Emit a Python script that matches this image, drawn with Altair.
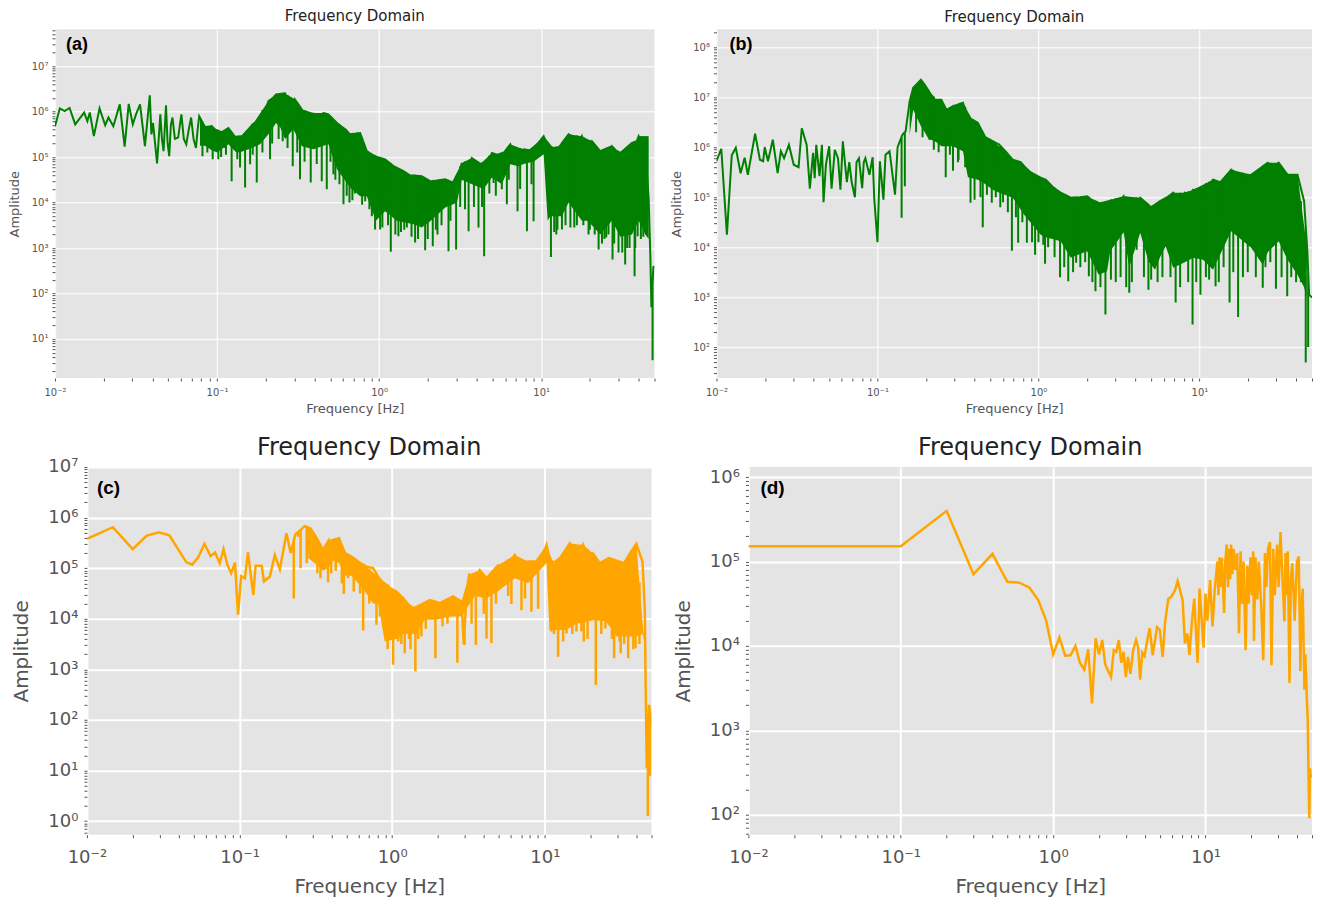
import altair as alt
import numpy as np
import pandas as pd

# Every trace is (log10 frequency, log10 amplitude); bands are (log10 frequency, top, bottom) of the solid part;
# notch lists are (log10 frequency, lowest log10 amplitude) of the short dips under each solid part.
a_trace = [(-2.0,5.68),(-1.97,6.07),(-1.94,6.01),(-1.91,6.08),(-1.875,5.72),(-1.82,5.98),(-1.80,5.79),(-1.785,5.98),(-1.76,5.46),(-1.725,6.07),(-1.69,5.70),(-1.67,5.87),(-1.64,5.68),(-1.60,6.16),(-1.57,5.23),(-1.545,6.17),(-1.52,5.72),(-1.50,5.94),(-1.475,6.16),(-1.445,5.24),(-1.415,6.36),(-1.405,5.5),(-1.395,5.75),(-1.37,4.86),(-1.35,5.94),(-1.34,5.4),(-1.33,5.13),(-1.315,6.14),(-1.305,5.3),(-1.295,5.02),(-1.285,5.7),(-1.275,5.87),(-1.26,5.4),(-1.24,5.43),(-1.22,5.94),(-1.205,5.4),(-1.19,5.28),(-1.175,5.6),(-1.16,5.87),(-1.145,5.4),(-1.13,5.20),(-1.12,5.6),(-1.11,5.9),(-1.09,5.02),(-1.074,5.66),(-1.05,5.3),(-1.033,5.68),(-1.027,4.95),(-1.01,5.6),(-.992,4.95),(-.97,5.55),(-.95,5.2),(-.93,5.64),(-.91,4.47),(-.89,5.45),(-.858,4.77),(-.845,5.46),(-.827,4.33),(-.81,5.6),(-.796,4.84),(-.78,5.72),(-.755,4.44),(-.735,5.83),(-.705,6.0),(-.683,6.23),(-.673,4.95),(-.655,6.3),(-.636,6.38),(-.595,5.35),(-.58,6.4),(-.55,5.8),(-.533,4.8),(-.52,6.27),(-.488,4.51),(-.477,6.05),(-.44,5.4),(-.422,4.44),(-.405,5.97),(-.375,5.5),(-.354,4.47),(-.344,5.97),(-.323,4.29),(-.313,5.94),(-.282,4.62),(-.26,5.75),(-.22,3.96),(-.205,5.6),(-.183,4.0),(-.18,5.5),(-.138,4.25),(-.117,5.53),(-.086,4.03),(-.076,5.13),(-.06,3.85),(-.04,5.05),(-.025,3.41),(-.01,5.0),(.006,3.41),(.037,4.95),(.072,2.92),(.09,4.8),(.119,3.26),(.145,4.7),(.171,3.45),(.19,4.6),(.222,3.12),(.263,4.58),(.284,2.95),(.315,4.47),(.331,3.04),(.345,4.48),(.36,3.3),(.408,4.51),(.428,2.93),(.45,4.45),(.475,2.97),(.48,4.4),(.51,4.87),(.535,4.5),(.552,3.37),(.572,4.98),(.613,3.45),(.625,4.85),(.648,2.82),(.665,4.8),(.696,5.09),(.706,4.43),(.73,5.05),(.757,4.29),(.77,5.1),(.788,3.96),(.809,5.28),(.835,5.0),(.854,3.81),(.891,5.17),(.912,3.37),(.93,5.15),(.953,3.59),(.98,5.3),(1.015,5.46),(1.04,5.25),(1.06,2.8),(1.075,5.2),(1.093,3.3),(1.11,5.22),(1.128,3.41),(1.169,5.5),(1.204,3.45),(1.23,5.3),(1.251,5.46),(1.282,5.17),(1.292,3.3),(1.313,5.35),(1.354,2.97),(1.364,5.13),(1.401,3.23),(1.436,5.24),(1.44,2.75),(1.46,5.15),(1.477,2.9),(1.488,5.09),(1.518,2.64),(1.56,5.31),(1.576,2.38),(1.59,5.35),(1.595,3.26),(1.601,5.46),(1.642,5.13),(1.663,4.1),(1.673,2.86),(1.68,1.7),(1.687,0.53),(1.692,2.58),(1.699,2.6)]
a_band = [(-1.105,5.85,5.25),(-1.074,5.66,5.25),(-1.033,5.66,5.15),(-1.0,5.5,5.1),(-0.93,5.62,5.28),(-0.88,5.42,5.1),(-0.848,5.45,5.12),(-.786,5.7,5.2),(-.735,5.82,5.28),(-.683,6.2,5.5),(-.636,6.37,5.75),(-.61,6.05,5.65),(-.58,6.38,5.39),(-.53,6.25,5.62),(-.477,6.04,5.24),(-.405,5.96,5.17),(-.344,5.96,5.25),(-.313,5.93,5.28),(-.26,5.74,4.73),(-.18,5.48,4.33),(-.117,5.5,4.14),(-.076,5.12,4.14),(-.02,5.0,3.6),(.037,4.93,3.81),(.109,4.72,3.6),(.212,4.57,3.52),(.263,4.57,3.45),(.315,4.46,3.59),(.408,4.5,3.89),(.48,4.4,4.0),(.51,4.85,4.5),(.572,4.97,4.4),(.644,4.75,4.3),(.696,5.08,4.55),(.757,5.0,4.4),(.809,5.26,4.84),(.86,5.0,4.8),(.891,5.15,4.85),(.953,5.15,4.9),(1.015,5.44,5.06),(1.04,5.3,3.6),(1.056,5.18,3.7),(1.128,5.22,3.7),(1.169,5.46,4.0),(1.21,5.27,3.8),(1.251,5.44,3.6),(1.282,5.15,3.6),(1.313,5.33,3.5),(1.364,5.12,3.3),(1.436,5.22,3.6),(1.488,5.08,3.25),(1.56,5.3,3.3),(1.601,5.44,3.6),(1.642,5.12,3.3),(1.663,4.1,3.2)]
a_notch = [(-1.06,5.1),(-.975,5.0),(-.945,5.05),(-.875,4.95),(-.78,5.05),(-.72,5.1),(-.66,5.3),(-.62,5.4),(-.565,5.2),(-.505,5.1),(-.46,4.9),(-.385,4.85),(-.30,4.9),(-.27,4.5),(-.245,4.4),(-.20,4.15),(-.165,4.05),(-.15,4.2),(-.105,3.95),(-.045,3.7),(.02,3.45),(.055,3.5),(.10,3.3),(.135,3.35),(.155,3.4),(.20,3.25),(.24,3.2),(.30,3.2),(.35,3.4),(.385,3.5),(.44,3.6),(.50,3.9),(.53,3.85),(.585,3.9),(.635,3.9),(.68,4.2),(.72,4.15),(.80,4.5),(.87,4.3),(.94,4.4),(1.08,3.35),(1.10,3.4),(1.15,3.5),(1.18,3.45),(1.22,3.5),(1.26,3.5),(1.30,3.4),(1.33,3.3),(1.375,3.1),(1.39,3.2),(1.415,3.3),(1.45,3.1),(1.50,2.9),(1.53,3.0),(1.545,3.0),(1.58,3.0),(1.615,3.2),(1.63,3.25),(1.65,3.3)]

b_trace = [(-2.0,5.72),(-1.97,5.97),(-1.935,4.25),(-1.905,5.84),(-1.88,5.99),(-1.85,5.48),(-1.825,5.79),(-1.805,5.45),(-1.76,6.27),(-1.73,5.75),(-1.71,5.72),(-1.70,6.0),(-1.68,5.72),(-1.65,6.15),(-1.62,5.48),(-1.60,5.92),(-1.58,5.78),(-1.55,6.05),(-1.52,5.65),(-1.49,5.6),(-1.47,6.38),(-1.44,6.05),(-1.42,5.17),(-1.40,5.89),(-1.39,5.38),(-1.38,6.05),(-1.36,5.42),(-1.345,6.05),(-1.335,4.9),(-1.32,5.65),(-1.30,6.02),(-1.285,5.17),(-1.265,5.95),(-1.245,5.78),(-1.23,5.15),(-1.215,6.12),(-1.19,5.3),(-1.175,5.7),(-1.16,5.3),(-1.14,5.0),(-1.13,5.7),(-1.115,5.78),(-1.095,5.18),(-1.085,5.7),(-1.075,5.78),(-1.05,5.45),(-1.03,5.8),(-1.02,4.98),(-1.0,4.1),(-.985,5.72),(-.963,4.95),(-.95,5.85),(-.925,5.92),(-.891,5.05),(-.875,6.0),(-.85,4.59),(-.845,6.25),(-.83,5.22),(-.825,6.32),(-.8,6.92),(-.778,7.19),(-.755,6.6),(-.73,7.35),(-.706,7.25),(-.68,7.12),(-.675,6.15),(-.665,6.79),(-.634,6.95),(-.603,6.95),(-.576,5.4),(-.572,6.75),(-.531,5.53),(-.531,6.82),(-.496,5.75),(-.469,6.89),(-.438,6.59),(-.422,4.89),(-.41,6.55),(-.397,4.95),(-.377,6.49),(-.346,4.4),(-.33,6.2),(-.29,4.89),(-.284,6.12),(-.243,6.05),(-.237,4.8),(-.2,5.9),(-.165,3.93),(-.16,5.75),(-.126,4.09),(-.11,5.7),(-.089,5.62),(-.072,4.09),(-.05,5.5),(-.021,3.85),(.014,5.39),(.041,3.67),(.045,5.35),(.09,5.2),(.134,3.4),(.138,5.09),(.185,3.32),(.2,4.99),(.234,3.69),(.26,5.0),(.302,5.02),(.313,3.42),(.33,4.95),(.354,3.12),(.374,4.89),(.405,4.75),(.416,2.65),(.446,4.85),(.5,4.9),(.529,5.02),(.564,3.09),(.564,4.62),(.632,4.99),(.683,3.15),(.7,4.8),(.724,4.72),(.755,4.92),(.8,5.0),(.837,5.09),(.852,2.89),(.875,4.95),(.909,5.09),(.94,5.0),(.957,2.45),(.961,5.15),(1.006,3.05),(1.022,5.09),(1.084,5.35),(1.1,3.22),(1.13,5.3),(1.187,2.89),(1.197,5.55),(1.24,2.6),(1.26,5.4),(1.321,5.45),(1.393,3.19),(1.424,5.69),(1.455,5.6),(1.475,3.17),(1.492,5.69),(1.545,3.02),(1.547,5.45),(1.609,5.45),(1.65,4.92),(1.66,1.69),(1.67,3.92),(1.675,2.0),(1.681,3.05),(1.699,2.99)]
b_band = [(-.8,6.9,6.25),(-.778,7.18,6.75),(-.73,7.33,6.42),(-.706,7.23,6.3),(-.68,7.1,6.15),(-.665,6.78,6.15),(-.634,6.93,6.1),(-.603,6.93,6.02),(-.572,6.73,6.02),(-.531,6.8,6.02),(-.469,6.87,5.92),(-.438,6.57,5.4),(-.377,6.47,5.35),(-.346,6.23,5.3),(-.284,6.1,5.15),(-.243,6.03,5.09),(-.16,5.74,4.99),(-.089,5.6,4.65),(.014,5.38,4.25),(.045,5.33,4.2),(.138,5.08,4.12),(.2,4.97,3.79),(.302,5.0,3.92),(.374,4.87,3.45),(.426,4.77,3.52),(.446,4.84,3.92),(.529,5.0,4.3),(.564,4.6,3.6),(.632,4.97,4.29),(.683,4.75,3.72),(.724,4.7,3.55),(.755,4.9,3.8),(.79,5.0,4.02),(.837,5.07,3.59),(.909,5.07,3.7),(.961,5.13,3.79),(1.022,5.07,3.75),(1.084,5.33,3.55),(1.197,5.53,4.32),(1.321,5.43,3.99),(1.393,5.6,3.65),(1.424,5.67,3.9),(1.492,5.67,4.12),(1.547,5.43,3.75),(1.609,5.43,3.45),(1.65,4.9,3.2),(1.665,4.0,3.0)]
b_notch = [(-.76,6.3),(-.72,6.2),(-.65,5.95),(-.62,5.9),(-.55,5.85),(-.50,5.7),(-.455,5.6),(-.36,5.0),(-.32,5.05),(-.265,5.0),(-.22,4.9),(-.19,4.7),(-.14,4.6),(-.10,4.5),(-.04,4.1),(.0,4.1),(.03,4.05),(.06,4.0),(.10,3.8),(.16,3.6),(.215,3.5),(.26,3.6),(.29,3.7),(.335,3.3),(.385,3.2),(.45,3.35),(.48,3.3),(.51,3.4),(.545,3.2),(.58,3.3),(.61,3.95),(.655,3.4),(.70,3.35),(.74,3.3),(.77,3.4),(.82,3.4),(.88,3.2),(.93,3.3),(.98,3.3),(1.04,3.4),(1.06,3.35),(1.12,3.3),(1.15,3.6),(1.21,3.5),(1.27,3.4),(1.30,3.5),(1.35,3.4),(1.41,3.6),(1.44,3.7),(1.51,3.4),(1.57,3.4),(1.60,3.3),(1.63,3.3)]

c_trace = [(-2.0,5.58),(-1.83,5.81),(-1.70,5.375),(-1.61,5.64),(-1.53,5.71),(-1.46,5.65),(-1.35,5.12),(-1.31,5.07),(-1.27,5.22),(-1.23,5.48),(-1.19,5.24),(-1.16,5.31),(-1.13,5.10),(-1.105,5.375),(-1.08,5.07),(-1.055,4.9),(-1.03,5.11),(-1.01,4.08),(-0.99,4.84),(-0.965,4.8),(-0.945,5.31),(-0.91,4.47),(-0.895,5.05),(-0.855,5.05),(-0.84,4.74),(-.802,4.83),(-.769,5.26),(-.736,4.98),(-.693,5.69),(-.665,5.3),(-.645,4.4),(-.635,5.66),(-.616,5.62),(-.573,5.83),(-.551,5.3),(-.536,5.79),(-.507,5.66),(-.47,4.8),(-.453,5.36),(-.42,4.72),(-.42,5.53),(-.387,5.49),(-.348,5.59),(-.317,4.49),(-.31,5.3),(-.267,5.23),(-.252,4.54),(-.223,5.13),(-.19,3.77),(-.169,5.03),(-.125,5.0),(-.103,3.88),(-.092,4.83),(-.049,4.64),(.006,3.09),(.028,4.54),(.071,4.41),(.082,3.32),(.1,4.3),(.12,3.4),(.137,4.21),(.152,2.96),(.17,4.25),(.191,3.65),(.246,4.37),(.283,3.22),(.312,4.31),(.362,3.9),(.399,4.44),(.427,3.13),(.454,4.34),(.469,3.5),(.474,3.48),(.487,4.5),(.504,4.87),(.541,4.8),(.548,3.48),(.574,4.96),(.618,3.61),(.618,4.8),(.65,3.52),(.694,5.06),(.738,5.0),(.781,4.29),(.803,5.26),(.847,4.17),(.847,5.03),(.89,5.13),(.912,4.14),(.935,5.13),(.956,4.2),(.98,5.2),(1.011,5.46),(1.03,5.2),(1.043,3.75),(1.055,5.1),(1.087,3.25),(1.1,5.2),(1.142,3.71),(1.164,5.49),(1.207,3.75),(1.22,5.2),(1.251,5.46),(1.255,3.55),(1.29,5.15),(1.316,5.29),(1.334,2.69),(1.36,5.1),(1.397,3.81),(1.42,5.2),(1.454,3.22),(1.47,5.15),(1.497,3.32),(1.52,5.1),(1.546,3.22),(1.557,5.29),(1.594,3.42),(1.6,5.48),(1.64,5.13),(1.655,4.17),(1.66,2.85),(1.668,1.05),(1.675,0.1),(1.683,2.3),(1.69,0.9),(1.699,1.9)]
c_band = [(-.55,5.55,5.2),(-.507,5.64,5.1),(-.453,5.34,4.95),(-.42,5.5,5.0),(-.387,5.47,5.15),(-.348,5.57,5.1),(-.31,5.28,4.85),(-.267,5.21,4.85),(-.223,5.11,4.7),(-.169,5.01,4.5),(-.125,4.98,4.3),(-.092,4.8,4.3),(-.049,4.62,3.55),(.028,4.52,3.6),(.071,4.39,3.7),(.159,4.2,3.7),(.213,4.3,3.98),(.29,4.3,3.98),(.377,4.4,4.04),(.454,4.3,4.05),(.487,4.45,4.2),(.541,4.75,4.45),(.618,4.75,4.4),(.694,5.0,4.55),(.803,5.2,4.8),(.89,5.1,4.7),(1.011,5.42,5.1),(1.03,5.3,3.78),(1.142,5.2,3.78),(1.207,5.3,3.9),(1.316,5.25,3.97),(1.4,5.15,3.95),(1.47,5.15,3.65),(1.557,5.27,3.65),(1.6,5.46,3.65),(1.64,5.1,3.7),(1.655,4.15,3.5)]
c_notch = [(-.60,5.0),(-.56,5.1),(-.49,4.9),(-.40,4.9),(-.37,4.95),(-.33,4.7),(-.29,4.8),(-.21,4.5),(-.15,4.3),(-.08,4.05),(-.03,3.4),(.04,3.55),(.06,3.5),(.11,3.6),(.17,3.6),(.22,3.8),(.33,3.85),(.52,3.9),(.60,4.1),(.68,4.3),(.76,4.45),(.87,4.4),(1.06,3.7),(1.12,3.55),(1.18,3.7),(1.24,3.75),(1.28,3.6),(1.37,3.7),(1.44,3.6),(1.49,3.55),(1.52,3.5),(1.58,3.4),(1.62,3.5)]

d_trace = [(-2.0,5.18),(-1.0,5.18),(-0.699,5.60),(-0.523,4.85),(-0.398,5.09),(-0.301,4.76),(-0.222,4.75),(-0.155,4.69),(-0.097,4.54),(-0.046,4.30),(0.0,3.90),(0.041,4.10),(0.079,3.885),(0.114,3.89),(0.146,4.0),(0.176,3.8),(0.204,3.72),(0.230,3.96),(0.255,3.32),(0.279,4.09),(0.301,3.9),(0.322,4.07),(0.342,3.78),(0.362,3.70),(0.380,3.63),(0.398,3.95),(0.415,3.93),(0.431,4.07),(0.447,3.8),(0.462,3.93),(0.477,3.63),(0.491,3.87),(.507,3.67),(.525,3.95),(.544,4.07),(.558,3.98),(.571,3.6),(.585,3.92),(.60,3.88),(.62,4.09),(.634,4.21),(.653,3.89),(.682,4.22),(.70,4.19),(.719,3.87),(.734,4.27),(.756,4.56),(.775,4.58),(.80,4.66),(.817,4.77),(.85,4.54),(.865,4.03),(.88,4.15),(.895,3.89),(.91,4.27),(.926,4.56),(.948,3.8),(.961,4.68),(.987,3.98),(1.0,4.62),(1.012,4.3),(1.03,4.78),(1.046,4.23),(1.061,4.68),(1.078,5.0),(1.085,4.6),(1.092,5.05),(1.1,4.7),(1.108,5.04),(1.122,4.39),(1.13,5.0),(1.139,5.2),(1.148,4.7),(1.155,5.15),(1.161,4.79),(1.168,5.2),(1.176,4.85),(1.185,5.15),(1.195,4.9),(1.208,5.1),(1.22,4.15),(1.23,5.12),(1.24,4.5),(1.25,5.0),(1.263,3.95),(1.274,4.95),(1.283,4.5),(1.295,5.05),(1.305,4.6),(1.313,5.12),(1.318,4.06),(1.328,5.05),(1.34,4.55),(1.35,5.0),(1.365,4.5),(1.379,3.83),(1.39,5.1),(1.40,4.7),(1.41,5.15),(1.423,5.23),(1.433,3.77),(1.445,5.15),(1.455,4.6),(1.47,5.2),(1.48,4.7),(1.492,5.35),(1.505,4.8),(1.518,4.29),(1.525,5.1),(1.531,4.6),(1.54,5.12),(1.551,3.56),(1.56,4.8),(1.57,4.98),(1.585,4.3),(1.60,5.0),(1.612,5.06),(1.623,3.7),(1.63,4.5),(1.638,4.68),(1.649,3.48),(1.655,3.9),(1.666,3.34),(1.671,3.12),(1.675,2.6),(1.681,1.96),(1.686,2.55),(1.69,2.45),(1.699,2.47)]
d_band = []
d_notch = []

FREQ_TITLE = "Frequency [Hz]"
AMP_TITLE = "Amplitude"
PANEL_TITLE = "Frequency Domain"
GREEN = "#007F00"
ORANGE = "#FFA500"
SUP = {-2: "⁻²", -1: "⁻¹", 0: "⁰", 1: "¹", 2: "²", 3: "³", 4: "⁴", 5: "⁵", 6: "⁶", 7: "⁷", 8: "⁸"}
IS_MAJOR = "abs(log(datum.value)/LN10-round(log(datum.value)/LN10))<0.001"


def log_ticks(lo, hi):
    out = []
    for e in range(lo, hi + 1):
        for m in range(1, 10):
            out.append(float(f"{m}e{e}"))
    return out


def label_expr(lo, hi):
    parts = [f"abs(log(datum.value)/LN10-({e}))<0.001?'10{SUP[e]}':" for e in range(lo, hi + 1)]
    return "".join(parts) + "''"


def vertical_dips(points, start):
    """Draw each dip as a straight drop from the line joining its two neighbours."""
    out = []
    for i, (f, v) in enumerate(points):
        if 0 < i < len(points) - 1 and f >= start:
            fp, vp = points[i - 1]
            fn, vn = points[i + 1]
            if v < vp and v < vn and fn > fp:
                top = vp + (vn - vp) * (f - fp) / (fn - fp)
                out += [(f, top), (f, v), (f, top)]
                continue
        out.append((f, v))
    return out


def filled_band(trace, band):
    """Solid part: its top follows the peaks of the trace, its bottom follows the band list."""
    peaks = [p for i, p in enumerate(trace) if 0 < i < len(trace) - 1 and p[1] >= trace[i - 1][1] and p[1] >= trace[i + 1][1]]
    pf, pv = [p[0] for p in peaks], [p[1] for p in peaks]
    bf, blo = [p[0] for p in band], [p[2] for p in band]
    fs = sorted({f for f in bf} | {f for f in pf if bf[0] <= f <= bf[-1]})
    hi = [max(float(np.interp(f, pf, pv)), float(np.interp(f, bf, blo))) for f in fs]
    lo = np.interp(fs, bf, blo)
    return pd.DataFrame({"f": [10 ** f for f in fs], "hi": [10 ** v for v in hi], "lo": [10 ** float(v) for v in lo]}), (pf, pv)


def axis(title, values, lo, hi, s, pad, label_pad, extent=None):
    kw = dict(
        title=title, values=values, labelExpr=label_expr(lo, hi), labelOverlap=False, labelFlush=False,
        labelFont="DejaVu Sans", titleFont="DejaVu Sans", labelFontSize=s["lab"], titleFontSize=s["tit"],
        titleFontWeight="normal", titleColor="#555555", labelColor="#555555", titlePadding=pad,
        labelPadding=label_pad, domain=False, tickColor="#555555", tickSize=s["tick"], tickWidth=1,
        grid=True, gridColor="#FFFFFF", gridWidth=s["grid"],
        gridOpacity={"condition": {"test": IS_MAJOR, "value": s["gop"]}, "value": 0},
    )
    if extent is not None:
        kw["minExtent"] = extent
        kw["maxExtent"] = extent
    return alt.Axis(**kw)


def panel(trace, band, notch, color, tag, w, h, ydom, yexp, style, tx, toff, start, tdy=0):
    pts = vertical_dips(trace, start)
    line_df = pd.DataFrame({"f": [10 ** p[0] for p in pts], "a": [10 ** p[1] for p in pts], "i": range(len(pts))})
    xs = alt.Scale(type="log", domain=[0.01, 50], nice=False)
    ys = alt.Scale(type="log", domain=ydom, nice=False)
    xax = axis(FREQ_TITLE, log_ticks(-2, 1), -2, 1, style, style["xpad"], style["xlp"])
    yax = axis(AMP_TITLE, log_ticks(yexp[0] - 1, yexp[1]), yexp[0], yexp[1], style, style["ypad"], style["ylp"], extent=style["ext"])
    line = alt.Chart(line_df).mark_line(color=color, strokeWidth=style["lw"], clip=True, strokeJoin="miter").encode(
        x=alt.X("f:Q", scale=xs, axis=xax), y=alt.Y("a:Q", scale=ys, axis=yax), order="i:Q")
    layers = [line]
    if band:
        band_df, (pf, pv) = filled_band(trace, band)
        area = alt.Chart(band_df).mark_area(color=color, opacity=1, clip=True).encode(
            x=alt.X("f:Q", scale=xs, axis=xax), y=alt.Y("hi:Q", scale=ys, axis=yax), y2="lo:Q")
        layers.insert(0, area)
        tops = np.interp([n[0] for n in notch], pf, pv)
        notch_df = pd.DataFrame({"f": [10 ** n[0] for n in notch], "lo": [10 ** n[1] for n in notch], "hi": [10 ** float(t) for t in tops]})
        rule = alt.Chart(notch_df).mark_rule(color=color, strokeWidth=style["lw"], clip=True).encode(
            x=alt.X("f:Q", scale=xs, axis=xax), y=alt.Y("lo:Q", scale=ys, axis=yax), y2="hi:Q")
        layers.insert(1, rule)
    lab = alt.Chart(pd.DataFrame({"t": [tag]})).mark_text(
        font="Liberation Sans", fontWeight="bold", fontSize=style["tag"], color="#000000", align="left", baseline="middle"
    ).encode(x=alt.value(tx), y=alt.value(style["ty"]), text="t:N")
    layers.append(lab)
    return alt.layer(*layers).properties(
        width=w, height=h,
        title=alt.TitleParams(PANEL_TITLE, font="DejaVu Sans", fontSize=style["ts"], fontWeight="normal", color="#222222", offset=toff, dy=tdy),
        view=alt.ViewConfig(fill="#E4E4E4", stroke=None),
    )


TOP = dict(lab=10, tit=13, xpad=5, ypad=5, xlp=6, ylp=4, grid=1.5, gop=0.75, tick=3, ext=28, lw=2.0, tag=18, ty=16, ts=15)
BOT = dict(lab=18, tit=20, xpad=10, ypad=13, xlp=11, ylp=6, grid=2, gop=1, tick=3, ext=42, lw=2.5, tag=19, ty=21, ts=24)

a = panel(a_trace, a_band, a_notch, GREEN, "(a)", 600, 349, [1.38, 10 ** 7.81], (1, 7), TOP, 11, 0, -1.1, -2)
b = panel(b_trace, b_band, b_notch, GREEN, "(b)", 596, 349, [24, 10 ** 8.36], (2, 8), TOP, 13, 0, -0.85, -2)
c = panel(c_trace, c_band, c_notch, ORANGE, "(c)", 565, 368, [0.54, 1e7], (0, 7), BOT, 10, -2, -0.7)
d = panel(d_trace, d_band, d_notch, ORANGE, "(d)", 564, 368, [58, 10 ** 6.12], (2, 6), BOT, 12, 7, 5)

spacer = alt.Chart(pd.DataFrame({"s": [0]})).mark_point(opacity=0).encode(
    x=alt.value(0), y=alt.value(0)).properties(width=32, height=1, view=alt.ViewConfig(stroke="transparent", fill="transparent"))

top = alt.hconcat(a, b, spacing=62, bounds="flush")
bot_pair = alt.hconcat(c, d, spacing=97, bounds="flush")
bot = alt.hconcat(spacer, bot_pair, spacing=0, bounds="flush")
chart = alt.vconcat(top, bot, spacing=21).properties(padding={"left": 1, "top": 0, "right": 0, "bottom": 0}).configure_view(stroke=None).configure(background="#FFFFFF")
chart.save("out.html", embed_options={"renderer": "svg", "actions": False})
